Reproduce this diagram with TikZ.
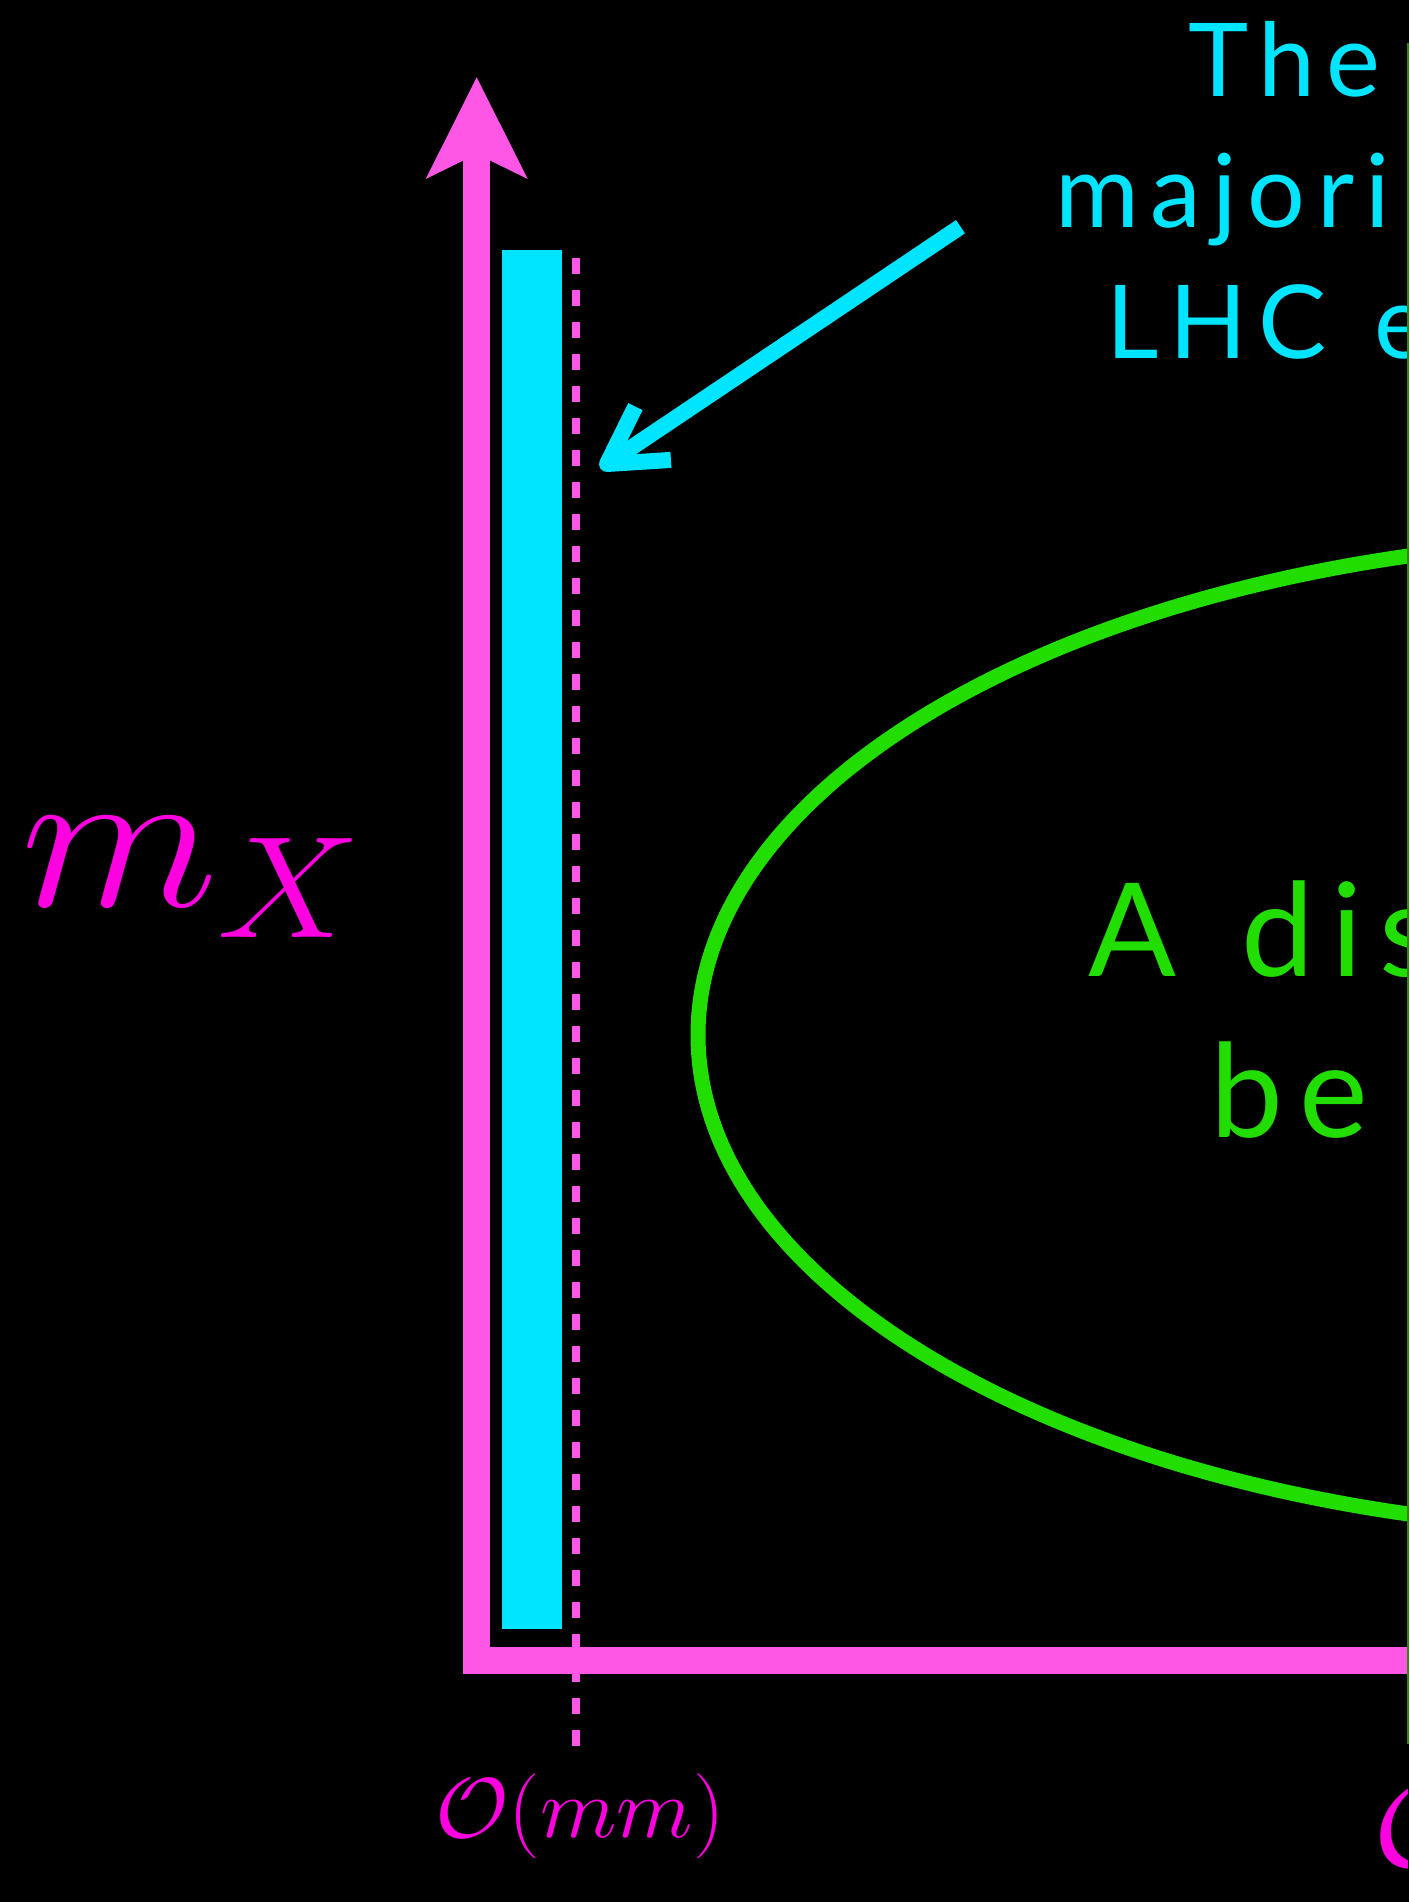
\RequirePackage{fix-cm}
\documentclass[tikz,border=0pt]{standalone}
\usepackage{fontspec}
\usepackage{graphicx}
\usetikzlibrary{calc}
\setmainfont{Lato}
\newfontfamily\cyfont[LetterSpace=11]{Lato}
\newfontfamily\grfont[LetterSpace=13]{Lato}
\definecolor{axispink}{HTML}{FF57E5}
\definecolor{labelmag}{HTML}{FF00E0}
\definecolor{barcyan}{HTML}{00E5FF}
\definecolor{ellgreen}{HTML}{22DD00}
\definecolor{edgegreen}{HTML}{2E8A00}
\tikzset{
  axisline/.style={draw=axispink, line width=27pt, line join=miter},
  dashguide/.style={draw=axispink, line width=8.3pt, dash pattern=on 16pt off 16pt},
  pointer/.style={draw=barcyan, line width=16pt, line join=round},
  cytext/.style={anchor=base west, inner sep=0pt, text=barcyan, font=\cyfont\fontsize{102}{131}\selectfont},
  grtext/.style={anchor=base west, inner sep=0pt, text=ellgreen, font=\grfont\fontsize{130}{160}\selectfont},
  mathlbl/.style={anchor=base west, inner sep=0pt, text=labelmag}
}
\begin{document}
\begin{tikzpicture}[x=1pt,y=-1pt]
\useasboundingbox (0,0) rectangle (1409,1902);
\fill[black] (0,0) rectangle (1409,1902);
\begin{scope}
\clip (0,0) rectangle (1407,1902);
% coordinates
\coordinate (origin) at (476.7,1660.7);
\coordinate (ytop) at (476.7,150);
\coordinate (xend) at (1420,1660.7);
% green ellipse
\draw[ellgreen, line width=15pt] (1668,1035) ellipse [x radius=970, y radius=497];
% cyan bar
\fill[barcyan] (501.7,250) rectangle (562,1629);
% axes
\draw[axisline] (ytop) -- (origin) -- (xend);
\fill[axispink] (476.7,77.3) -- (527.7,179) -- (476.7,154) -- (425.7,179) -- cycle;
% dashed guide
\coordinate (dtop) at (576,258);
\coordinate (dbot) at (576,1746);
\draw[dashguide] (dtop) -- (dbot);
% pointer arrow
\coordinate (pstart) at (960.5,226.7);
\coordinate (ptip) at (607,464);
\coordinate (pw1) at (635.4,406.6);
\coordinate (pw2) at (670.9,459.9);
\draw[pointer] (pstart) -- ($(ptip)!6pt!(pstart)$);
\draw[pointer] (pw1) -- (ptip) -- (pw2);
% texts
\node[cytext] (c1) at (1188,96.7) {The};
\node[cytext] (c2) at (1055,227.7) {majori};
\node[cytext] (c3) at (1106,358.3) {LHC\ \kern10pt e};
\node[grtext] (g1) at (1088.3,976.7) {A\ \kern15pt dis};
\node[grtext] (g2) at (1210,1137.3) {be};
\node[mathlbl, font=\fontsize{207}{207}\selectfont] (mx) at (21,906) {\scalebox{1.11}[1]{$m_X$}};
\node[mathlbl, font=\fontsize{85}{85}\selectfont] (omm) at (435,1837) {\scalebox{1.05}[1]{$\mathcal{O}(mm)$}};
\node[mathlbl, font=\fontsize{120}{120}\selectfont] (obig) at (1373,1866) {\scalebox{1.05}[1]{$\mathcal{O}$}};
\end{scope}
\coordinate (etop) at (1408.2,43);
\coordinate (ebot) at (1408.2,1744);
\draw[edgegreen, line width=1.5pt] (etop) -- (ebot);
\end{tikzpicture}
\end{document}
